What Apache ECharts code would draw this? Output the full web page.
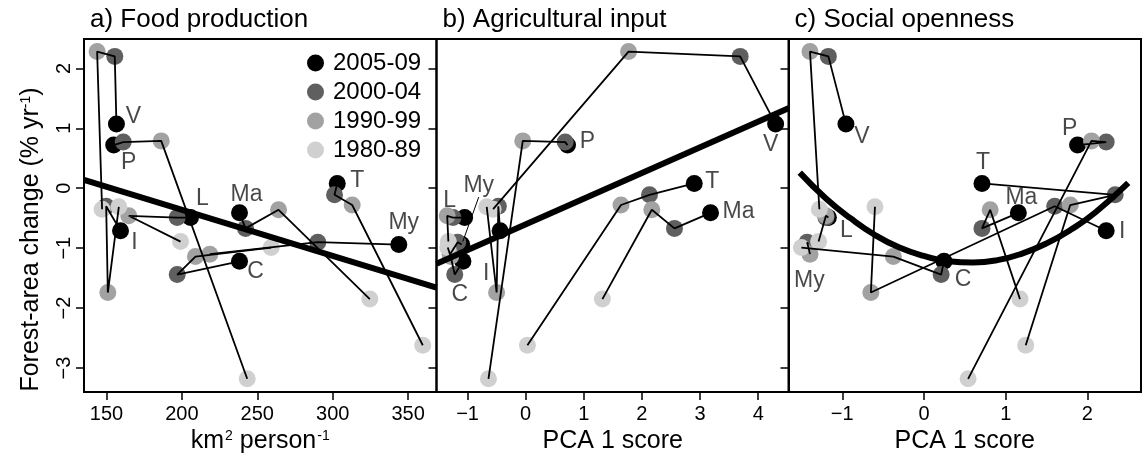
<!DOCTYPE html>
<html><head><meta charset="utf-8">
<script src="https://cdn.jsdelivr.net/npm/echarts@6/dist/echarts.min.js"></script>
<style>html,body{margin:0;padding:0;background:#fff}#c{width:1143px;height:459px}</style>
</head><body><div id="c"></div>
<script>
// ---------------- data ----------------
const periods = ['1980-89', '1990-99', '2000-04', '2005-09'];
const countries = ['V', 'P', 'T', 'Ma', 'L', 'I', 'C', 'My'];

// Forest-area change (% yr-1), order of countries as above
const chg1980 = [-0.35, -3.18, -2.62, -1.85, -0.89, -0.31, -0.99, null];
const chg1990 = [2.28, 0.79, -0.28, -0.36, -0.46, -1.74, -1.14, -1.10];
const chg2000 = [2.20, 0.77, -0.11, -0.67, -0.49, -0.30, -1.44, -0.90];
const chg2005 = [1.07, 0.72, 0.08, -0.41, -0.49, -0.71, -1.22, -0.94];

// a) Food production (km2 person-1)
const food1980 = [147.1, 243.3, 359.7, 324.6, 199.1, 158.2, 259.2, null];
const food1990 = [143.8, 186.3, 312.9, 264.1, 164.8, 150.9, 209.0, 218.5];
const food2000 = [155.5, 161.1, 301.2, 242.2, 196.9, 149.8, 196.9, 290.1];
const food2005 = [156.6, 154.8, 303.0, 238.2, 205.7, 159.3, 238.2, 343.8];

// b) Agricultural input (PCA 1 score)
const input1980 = [-0.56, -0.64, 0.03, 1.32, -1.33, -0.67, -1.34, null];
const input1990 = [1.77, -0.05, 1.64, 2.17, -1.35, -0.50, -1.29, -1.30];
const input2000 = [3.69, 0.68, 2.13, 2.56, -1.25, -0.47, -1.22, -1.17];
const input2005 = [4.30, 0.72, 2.90, 3.18, -1.05, -0.44, -1.08, -1.10];

// c) Social openness (PCA 1 score)
const open1980 = [-1.28, 0.54, 1.245, 1.175, -1.29, -0.60, -1.50, null];
const open1990 = [-1.395, 2.05, 1.79, 0.81, -1.20, -0.65, -0.375, -1.395];
const open2000 = [-1.17, 2.23, 2.34, 0.71, -1.20, 1.60, 0.21, -1.43];
const open2005 = [-0.955, 1.88, 0.71, 1.155, -1.17, 2.23, 0.245, -1.415];

// fitted lines
const foodFitX = [135.1, 368.8];
const foodFitY = [0.14, -1.66];
const inputFitX = [-1.534, 4.53];
const inputFitY = [-1.26, 1.34];
const openFitX = [-1.52, -1.2, -0.9, -0.6, -0.3, 0, 0.3, 0.6, 0.9, 1.2, 1.5, 1.8, 2.1, 2.5];
const openFitY = [0.26, -0.17, -0.50, -0.78, -0.99, -1.13, -1.22, -1.24, -1.20, -1.09, -0.92, -0.69, -0.40, 0.09];

// tick labels
const yTicks = [-3, -2, -1, 0, 1, 2];
const foodTicks = [150, 200, 250, 300, 350];
const inputTicks = [-1, 0, 1, 2, 3, 4];
const openTicks = [-1, 0, 1, 2];

// ---------------- layout / style ----------------
const FONT = 'Liberation Sans, Arial, Helvetica, sans-serif';
const periodColors = ['#d0d0d0', '#a2a2a2', '#5f5f5f', '#000000'];
const chg = [chg1980, chg1990, chg2000, chg2005];

const panels = [
  { title: 'a) Food production', xs: [food1980, food1990, food2000, food2005],
    fitX: foodFitX, fitY: foodFitY, ticks: foodTicks,
    min: 135.1, max: 368.8, left: 84, name: '{n|km}{s|2}{n| person}{s|-1}',
    labelOff: { V: [17, -7], P: [15, 18], T: [20, -3], Ma: [7, -18], L: [12, -19], I: [14, 12], C: [16, 10], My: [5, -22] } },
  { title: 'b) Agricultural input', xs: [input1980, input1990, input2000, input2005],
    fitX: inputFitX, fitY: inputFitY, ticks: inputTicks,
    min: -1.534, max: 4.53, left: 436.5, name: '{n|PCA 1 score}',
    labelOff: { V: [-5, 21], P: [20, -3], T: [18, -2], Ma: [28, -1], L: [-15, -17], I: [-14, 43], C: [-3, 33], My: [17, -59] },
    leader: 'My' },
  { title: 'c) Social openness', xs: [open1980, open1990, open2000, open2005],
    fitX: openFitX, fitY: openFitY, ticks: openTicks,
    min: -1.658, max: 2.656, left: 788.5, name: '{n|PCA 1 score}',
    labelOff: { V: [16, 13], P: [-8, -16], T: [1, -21], Ma: [3, -15], L: [18, 13], I: [16, 1], C: [19, 18], My: [1, 36] } }
];

const minus = v => String(v).replace('-', '\u2212');
const labelText = { fontFamily: FONT, fontSize: 23, color: '#1a1a1a', textBorderWidth: 0 };

const grids = [], xAxes = [], yAxes = [], series = [], titles = [];
panels.forEach((p, k) => {
  grids.push({ left: p.left, top: 39, width: 352.5, height: 353, show: true,
    borderColor: '#000', borderWidth: 2, backgroundColor: 'transparent' });
  titles.push({ text: p.title, left: p.left + 1, top: 2,
    textStyle: { fontFamily: FONT, fontSize: 26, fontWeight: 'normal', color: '#000' } });
  xAxes.push({ type: 'value', gridIndex: k, min: p.min, max: p.max,
    name: p.name, nameLocation: 'middle', nameGap: 35,
    nameTextStyle: { fontFamily: FONT, color: '#000',
      rich: { n: { fontFamily: FONT, fontSize: 25, color: '#000' },
              s: { fontFamily: FONT, fontSize: 14, color: '#000', verticalAlign: 'top', padding: [0, 0, 0, 1] } } },
    axisLine: { show: false, onZero: false }, splitLine: { show: false },
    axisTick: { show: true, length: 8, lineStyle: { color: '#000', width: 1.5 }, customValues: p.ticks },
    axisLabel: { customValues: p.ticks, formatter: minus, fontFamily: FONT, fontSize: 20, color: '#000', margin: 12 } });
  yAxes.push({ type: 'value', gridIndex: k, min: -3.4, max: 2.49,
    name: k === 0 ? 'Forest-area change (% yr{s|-1})' : '', nameLocation: 'middle', nameGap: 40, nameRotate: 90,
    nameTextStyle: { fontFamily: FONT, fontSize: 25, color: '#000', padding: [0, 48, 0, 0],
      rich: { s: { fontFamily: FONT, fontSize: 14, color: '#000', verticalAlign: 'top' } } },
    axisLine: { show: false, onZero: false }, splitLine: { show: false },
    axisTick: { show: true, length: 8, lineStyle: { color: '#000', width: 1.5 }, customValues: yTicks },
    axisLabel: { show: k === 0, customValues: yTicks, rotate: 90, formatter: minus,
      fontFamily: FONT, fontSize: 20, color: '#000', margin: 10 } });

  // period points
  for (let j = 3; j >= 0; j--) {
    const data = [];
    countries.forEach((c, i) => {
      if (p.xs[j][i] != null && chg[j][i] != null) data.push([p.xs[j][i], chg[j][i]]);
    });
    series.push({ type: 'scatter', name: periods[j], xAxisIndex: k, yAxisIndex: k, z: 2,
      symbol: 'circle', symbolSize: 17, itemStyle: { color: periodColors[j], opacity: 1 },
      data: data, silent: true });
  }
  // trajectories
  countries.forEach((c, i) => {
    const data = [];
    for (let j = 0; j < 4; j++) {
      if (p.xs[j][i] != null && chg[j][i] != null) data.push([p.xs[j][i], chg[j][i]]);
    }
    series.push({ type: 'line', xAxisIndex: k, yAxisIndex: k, z: 3, showSymbol: false, symbol: 'none',
      lineStyle: { color: '#000', width: 1.8 }, data: data, silent: true });
  });
  // fit line
  series.push({ type: 'line', xAxisIndex: k, yAxisIndex: k, z: 4, showSymbol: false, symbol: 'none',
    smooth: k === 2, lineStyle: { color: '#000', width: 6, cap: 'butt' },
    data: p.fitX.map((x, i) => [x, p.fitY[i]]), silent: true });
  // country labels
  const plain = countries.filter(c => c !== p.leader);
  series.push({ type: 'scatter', xAxisIndex: k, yAxisIndex: k, z: 6, symbolSize: 2,
    itemStyle: { color: 'rgba(0,0,0,0)' }, silent: true,
    data: plain.map(c => {
      const i = countries.indexOf(c);
      return { value: [p.xs[3][i], chg[3][i]],
        label: Object.assign({ show: true, formatter: c, position: 'inside', offset: p.labelOff[c] }, labelText) };
    }) });
  if (p.leader) {
    const i = countries.indexOf(p.leader);
    const o = p.labelOff[p.leader];
    series.push({ type: 'scatter', xAxisIndex: k, yAxisIndex: k, z: 6, symbolSize: 6,
      itemStyle: { color: 'rgba(0,0,0,0)' }, silent: true,
      label: Object.assign({ show: true, formatter: p.leader, position: 'inside' }, labelText),
      labelLayout: { dx: o[0], dy: o[1] },
      labelLine: { show: true, length2: 0, lineStyle: { color: '#000', width: 1 } },
      data: [[p.xs[3][i], chg[3][i]]] });
  }
});

const chart = echarts.init(document.getElementById('c'), null, { renderer: 'canvas' });
chart.setOption({
  animation: false,
  backgroundColor: '#fff',
  title: titles,
  grid: grids,
  xAxis: xAxes,
  yAxis: yAxes,
  legend: { data: ['2005-09', '2000-04', '1990-99', '1980-89'], orient: 'vertical',
    left: 302, top: 46, itemWidth: 17, itemHeight: 17, itemGap: 5, icon: 'circle',
    selectedMode: false,
    textStyle: { fontFamily: FONT, fontSize: 24, lineHeight: 24, color: '#000', padding: [0, 0, 0, 4] } },
  series: series
});
</script></body></html>
